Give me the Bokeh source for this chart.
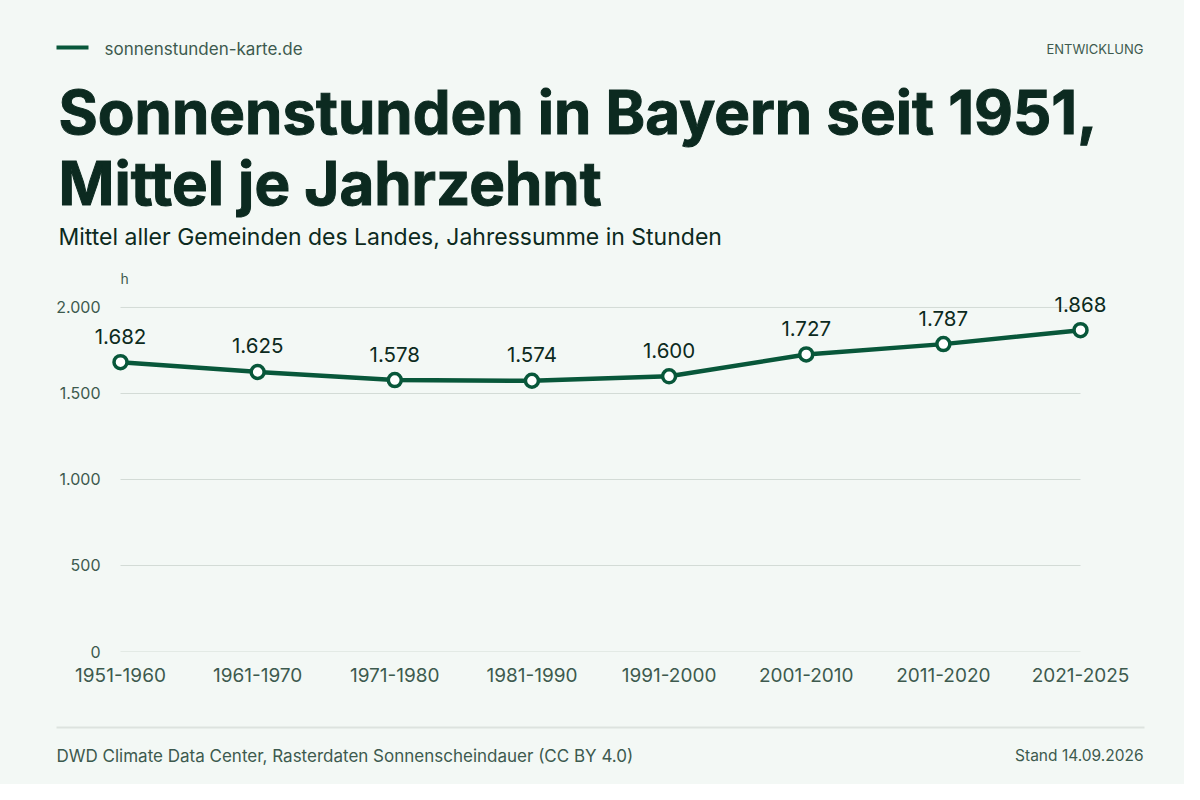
from bokeh.plotting import figure
from bokeh.layouts import column
from bokeh.models import ColumnDataSource, Range1d, FixedTicker, Label
from bokeh.core.properties import value
from bokeh.embed import file_html
from bokeh.resources import INLINE

# ---- data ----
decades = ["1951-1960", "1961-1970", "1971-1980", "1981-1990",
           "1991-2000", "2001-2010", "2011-2020", "2021-2025"]
hours = [1682, 1625, 1578, 1574, 1600, 1727, 1787, 1868]
hour_labels = ["1.682", "1.625", "1.578", "1.574", "1.600", "1.727", "1.787", "1.868"]
y_ticks = [0, 500, 1000, 1500, 2000]
y_tick_labels = ["0", "500", "1.000", "1.500", "2.000"]

title_lines = ["Sonnenstunden in Bayern seit 1951,", "Mittel je Jahrzehnt"]
subtitle = "Mittel aller Gemeinden des Landes, Jahressumme in Stunden"
brand = "sonnenstunden-karte.de"
kicker = "ENTWICKLUNG"
source_text = "DWD Climate Data Center, Rasterdaten Sonnenscheindauer (CC BY 4.0)"
stand_text = "Stand 14.09.2026"
unit = "h"

# ---- style ----
BG = "#f3f8f5"
GREEN = "#08573a"
DARK = "#0c2a20"
MUTED = "#3d5a4e"
GRID = "#d3dbd6"
RULE = "#dde3df"
FONT = "Inter"
W = 1184
LEFT = 40          # common frame left edge of all three figures
HEAD_H, CHART_H, FOOT_H = 262, 438, 84


def blank(h, y0):
    """Figure whose data coordinates equal page pixels (y downwards)."""
    f = figure(width=W, height=h, output_backend="svg", toolbar_location=None,
               x_range=Range1d(LEFT, W), y_range=Range1d(y0 + h, y0),
               x_axis_type=None, y_axis_type=None,
               min_border=0, min_border_left=LEFT, min_border_right=0,
               min_border_top=0, min_border_bottom=0)
    f.background_fill_color = BG
    f.border_fill_color = BG
    f.outline_line_color = None
    f.grid.visible = False
    return f


def lab(f, x, y, text, size, color, style="normal", align="left", outline=None):
    kw = {}
    if outline:
        kw["text_outline_color"] = outline
    f.add_layout(Label(x=x, y=y, text=text, text_font=FONT, text_font_size=size,
                       text_color=color, text_font_style=style,
                       text_align=align, text_baseline="middle", **kw))


# ---- header ----
head = blank(HEAD_H, 0)
head.quad(left=[56], right=[88], top=[45], bottom=[49], fill_color=GREEN, line_color=None)
lab(head, 104, 48, brand, "17px", MUTED)
lab(head, 1143, 48, kicker, "13px", MUTED, align="right")
lab(head, 58, 111, title_lines[0], "60px", DARK, style="bold", outline=DARK)
lab(head, 58, 182, title_lines[1], "60px", DARK, style="bold", outline=DARK)
lab(head, 58, 236, subtitle, "23px", DARK)

# ---- chart ----
n = len(decades)
px_per_step = 960 / (n - 1)
x_start = -(120 - LEFT) / px_per_step
x_end = (n - 1) + (W - 1080) / px_per_step
p = figure(width=W, height=CHART_H, output_backend="svg", toolbar_location=None,
           x_range=Range1d(x_start, x_end), y_range=Range1d(0, 2215),
           min_border_left=LEFT, min_border_right=0,
           min_border_top=8, min_border_bottom=49)
p.background_fill_color = BG
p.border_fill_color = BG
p.outline_line_color = None

p.xaxis.ticker = FixedTicker(ticks=list(range(n)))
p.xaxis.major_label_overrides = {i: d for i, d in enumerate(decades)}
p.yaxis.ticker = FixedTicker(ticks=y_ticks)
p.yaxis.major_label_overrides = {t: l for t, l in zip(y_ticks, y_tick_labels)}
for ax in (p.xaxis, p.yaxis):
    ax.axis_line_color = None
    ax.major_tick_line_color = None
    ax.minor_tick_line_color = None
    ax.major_tick_out = 0
    ax.major_tick_in = 0
    ax.major_label_text_font = FONT
    ax.major_label_text_color = MUTED
p.xaxis.major_label_text_font_size = "19px"
p.xaxis.major_label_standoff = 16
p.yaxis.major_label_text_font_size = "16px"
p.yaxis.major_label_standoff = -(100 - LEFT)

# horizontal gridlines spanning only the first to the last decade
p.grid.visible = False
p.segment(x0=[0] * len(y_ticks), x1=[n - 1] * len(y_ticks), y0=y_ticks, y1=y_ticks,
          line_color=GRID, line_width=1)

src = ColumnDataSource(dict(x=list(range(n)), y=hours, lab=hour_labels))
p.line("x", "y", source=src, line_color=GREEN, line_width=4.5)
p.scatter("x", "y", source=src, size=13, fill_color="#ffffff",
          line_color=GREEN, line_width=3.5)
p.text("x", "y", text="lab", source=src, text_align="center",
       text_baseline="middle", y_offset=-26, text_font=value(FONT),
       text_font_size="20.5px", text_color=DARK)
p.add_layout(Label(x=0, y=2169, text=unit, text_font=FONT, text_font_size="14px",
                   text_color=MUTED, text_align="left", text_baseline="middle"))

# ---- footer ----
foot = blank(FOOT_H, HEAD_H + CHART_H)
foot.quad(left=[56], right=[1144], top=[726], bottom=[728], fill_color=RULE, line_color=None)
lab(foot, 56, 755, source_text, "17px", MUTED)
lab(foot, 1143, 755, stand_text, "15.5px", MUTED, align="right")

page = column(head, p, foot, spacing=0)
page.styles = {"background-color": BG}
open("out.html", "w").write(file_html(page, INLINE))
